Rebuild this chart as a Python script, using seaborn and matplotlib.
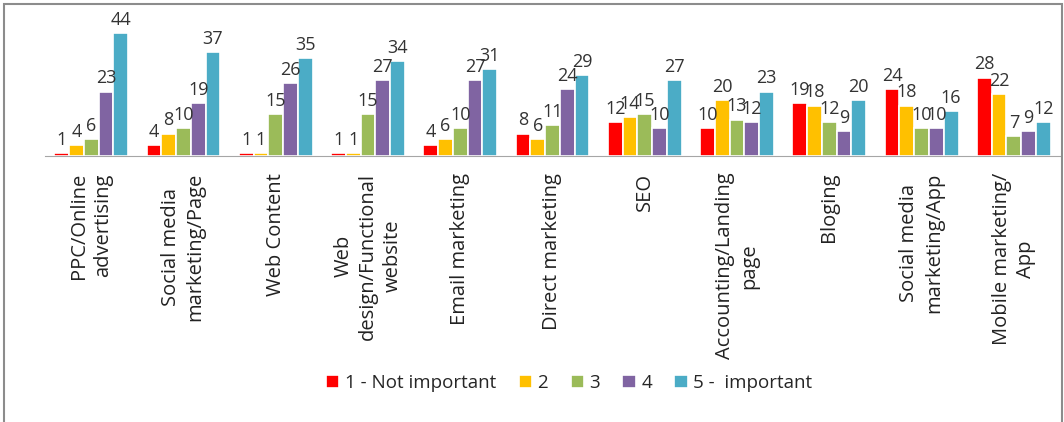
import pandas as pd
import seaborn as sns
import matplotlib.pyplot as plt

# categories shown on the x axis (line breaks as in the original)
categories = ['PPC/Online\nadvertising', 'Social media\nmarketing/Page', 'Web Content',
              'Web\ndesign/Functional\nwebsite', 'Email marketing', 'Direct marketing',
              'SEO', 'Accounting/Landing\npage', 'Bloging', 'Social media\nmarketing/App',
              'Mobile marketing/\nApp']
levels = ['1 - Not important', '2', '3', '4', '5 -  important']

# number of answers for each importance level
not_important = [1, 4, 1, 1, 4, 8, 12, 10, 19, 24, 28]
level_2 = [4, 8, 1, 1, 6, 6, 14, 20, 18, 18, 22]
level_3 = [6, 10, 15, 15, 10, 11, 15, 13, 12, 10, 7]
level_4 = [23, 19, 26, 27, 27, 24, 10, 12, 9, 10, 9]
important = [44, 37, 35, 34, 31, 29, 27, 23, 20, 16, 12]

colors = ['#FF0000', '#FFC000', '#9BBB59', '#8064A2', '#4BACC6']

series = [not_important, level_2, level_3, level_4, important]
rows = []
for lvl, vals in zip(levels, series):
    for cat, v in zip(categories, vals):
        rows.append({'Area': cat, 'Level': lvl, 'Count': v})
df = pd.DataFrame(rows)

sns.set_style('white')
plt.rcParams['font.family'] = ['Open Sans', 'DejaVu Sans']

fig = plt.figure(figsize=(10.64, 4.22), dpi=100)
ax = fig.add_axes([45 / 1064, 266 / 422, 1015 / 1064, 140 / 422])

sns.barplot(data=df, x='Area', y='Count', hue='Level', order=categories,
            hue_order=levels, palette=colors, saturation=1, width=0.8,
            edgecolor='white', linewidth=1.2, ax=ax)

for cont in ax.containers:
    ax.bar_label(cont, padding=3, fontsize=13, color='#333333')

ax.set_ylim(0, 50)
ax.set_xlim(-0.5, len(categories) - 0.5)
ax.set_xlabel('')
ax.set_ylabel('')
ax.set_yticks([])
for s in ['top', 'right', 'left']:
    ax.spines[s].set_visible(False)
ax.spines['bottom'].set_color('#A6A6A6')
ax.tick_params(axis='x', length=0, pad=12)
plt.setp(ax.get_xticklabels(), rotation=90, ha='center', va='top',
         multialignment='center', fontsize=14.5, color='#222222', linespacing=1.3)

ax.legend(loc='center', bbox_to_anchor=(0.535, 0.093), bbox_transform=fig.transFigure,
          ncol=5, frameon=False, fontsize=13.5, handlelength=0.7, handleheight=0.7,
          handletextpad=0.3, columnspacing=1.2)

# grey frame around the whole chart
fig.patches.append(plt.Rectangle((4 / 1064, -0.01), 1058 / 1064, 1 - 4 / 422 + 0.01,
                                 transform=fig.transFigure, fill=False,
                                 edgecolor='#8C8C8C', linewidth=1.5))

plt.savefig('out.png', dpi=100)
